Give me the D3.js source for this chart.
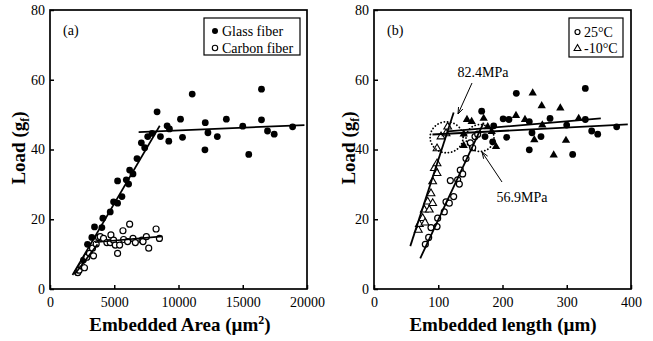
<!DOCTYPE html>
<html><head><meta charset="utf-8">
<script src="https://cdn.jsdelivr.net/npm/d3@7"></script>
<style>body{margin:0;background:#fff}svg{display:block}svg text{font-family:"Liberation Serif","Times New Roman",Times,"DejaVu Serif",serif !important}</style>
</head><body>
<svg id="c" width="653" height="341"></svg>
<script>
// ---------- DATA ----------
const yTicks = [0, 20, 40, 60, 80];
const xTicksA = [0, 5000, 10000, 15000, 20000];
const xTicksB = [0, 100, 200, 300, 400];

// Panel (a): Glass fiber (filled circles)
const glassArea = [2135,2604,2917,3255,3464,4036,4115,4687,4948,5260,5260,5599,5937,6119,6197,6458,6771,7109,7370,7604,7942,8333,8594,9114,9297,9245,10156,10312,11067,12083,12291,12057,13021,13724,15000,15468,16458,16458,16927,17447,18880];
const glassLoad = [4.7,8.3,12.8,14.8,17.8,17.6,20.3,22.1,25.0,24.6,31.0,26.5,31.3,30.1,34.1,33.0,37.4,41.9,40.5,43.7,44.6,50.8,43.7,46.8,45.9,42.4,48.7,43.5,55.9,47.7,44.8,39.9,43.7,48.7,46.7,38.6,57.3,48.5,45.3,44.4,46.5];
// Panel (a): Carbon fiber (open circles)
const carbonArea = [2162,2266,2474,2682,2865,3073,3385,3307,3594,3776,3906,4167,4427,4740,4687,4948,5078,5260,5417,5677,5729,6042,6198,6458,6641,7161,7240,7500,7682,8255,8516];
const carbonLoad = [4.7,5.4,6.6,6.1,9.1,10.2,9.5,11.7,12.9,14.8,15.0,14.5,13.3,15.5,13.3,14.0,12.6,10.2,12.6,16.7,14.2,13.6,18.6,14.5,13.3,14.0,13.6,15.0,11.7,17.2,14.5];
// Panel (a) fit lines [x1, y1, x2, y2]
const aGlassRise = [1750, 4.0, 8540, 46.8];
const aGlassPlateau = [6900, 45.0, 19800, 47.0];
const aCarbonRise = [1950, 4.4, 3700, 12.8];
const aCarbonPlateau = [3500, 13.4, 8750, 15.1];

// Panel (b): 25°C rising (open circles)
const c25Len = [79.9,85.1,88.7,98.1,99.1,109.4,112.1,117.2,118.8,124.0,130.2,132.8,134.3,138.0,143.2,149.9,153.6,157.2,161.4];
const c25Load = [12.8,14.8,17.6,17.9,20.3,22.1,25.0,24.6,31.1,26.5,31.3,30.1,34.1,33.0,37.4,41.9,40.5,43.7,44.4];
// Panel (b): 25°C plateau (filled circles)
const c25PLen = [167.6,172.8,184.7,186.3,201,210,206.5,221.5,241.7,241.7,245.9,259.9,274,299.9,309.2,328.9,328.9,338.8,348.2,377.7];
const c25PLoad = [51.0,43.7,42.2,46.8,48.8,48.6,43.5,56.1,48.0,39.9,44.8,43.7,48.9,47.0,38.6,57.5,48.6,45.3,44.4,46.5];
// Panel (b): -10°C rising (open triangles)
const m10Len = [69.0,70.6,75.7,78.3,79.4,83.5,86.1,88.7,91.3,91.3,93.9,98.1,98.1,98.1,104.3,112.1,114.7];
const m10Load = [16.9,18.6,20.3,22.7,19.0,25.0,22.7,27.4,24.6,30.8,34.6,33.2,36.0,40.3,43.7,44.6,46.5];
// Panel (b): -10°C plateau (filled triangles)
const m10PLen = [139.6,139.6,144.7,152.0,170.7,177,183.2,189.9,221,235,247,249.5,261,262,279.7,290,298.8,318.6];
const m10PLoad = [44.4,41.1,48.6,48.0,48.9,46.5,45.1,40.8,49.7,48.6,56.2,42.8,52.5,47.0,38.4,51.9,42.6,48.9];
// Panel (b) fit lines
const bM10Rise = [56.5, 12.3, 124, 50.6];
const b25Rise = [72, 8.8, 170.7, 47.7];
const b25Plateau = [91, 44.3, 395, 47.2];
const bM10Plateau = [115, 45.2, 353, 48.9];
// Dotted circles [cx, cy] and annotations
const circleCenters = [[113, 43.5], [165, 43.3]];
const annotLabels = ["82.4MPa", "56.9MPa"];

// ---------- DRAW ----------
const svg = d3.select("#c");
const FONT = "Liberation Serif";
const yRange = [289, 10];

function panel(xr, xDomain, xTicks, tickFmt, label, xTitleParts, titleX, yTitleX) {
  const x = d3.scaleLinear().domain(xDomain).range(xr);
  const y = d3.scaleLinear().domain([0, 80]).range(yRange);
  const g = svg.append("g");
  const ax = g.append("g").attr("transform", `translate(0,${yRange[0]})`)
    .call(d3.axisBottom(x).tickValues(xTicks).tickSize(-4).tickPadding(8).tickFormat(tickFmt));
  const ay = g.append("g").attr("transform", `translate(${xr[0]},0)`)
    .call(d3.axisLeft(y).tickValues(yTicks).tickSize(-4).tickPadding(5));
  [ax, ay].forEach(a => {
    a.attr("font-family", null).attr("font-size", null);
    a.select(".domain").remove();
    a.selectAll("line").attr("stroke", "#000").attr("stroke-width", 1.5);
    a.selectAll("text").attr("font-size", 14).attr("fill", "#000");
  });
  g.append("rect").attr("x", xr[0]).attr("y", yRange[1])
    .attr("width", xr[1] - xr[0]).attr("height", yRange[0] - yRange[1])
    .attr("fill", "none").attr("stroke", "#000").attr("stroke-width", 1.7);
  g.append("text").attr("x", xr[0] + 13).attr("y", 35).text(label).attr("font-size", 14);
  // x title
  const xt = g.append("text").attr("x", titleX).attr("y", 331).attr("text-anchor", "middle")
    .attr("font-size", 19).attr("font-weight", "bold");
  xTitleParts.forEach(p => {
    const t = xt.append("tspan").text(p.t);
    if (p.sup) t.attr("font-size", 12).attr("dy", -7);
    if (p.back) t.attr("dy", 7);
  });
  // y title
  const yt = g.append("text").attr("transform", `translate(${yTitleX},148) rotate(-90)`)
    .attr("text-anchor", "middle").attr("font-size", 19).attr("font-weight", "bold");
  yt.append("tspan").text("Load (g");
  yt.append("tspan").text("f").attr("font-size", 12).attr("dy", 4);
  yt.append("tspan").text(")").attr("dy", -4);
  return {x, y, g};
}

function line(p, s, w) {
  p.g.append("line").attr("x1", p.x(s[0])).attr("y1", p.y(s[1]))
    .attr("x2", p.x(s[2])).attr("y2", p.y(s[3]))
    .attr("stroke", "#000").attr("stroke-width", w || 1.7);
}
function circles(p, xs, ys, filled) {
  p.g.selectAll(null).data(xs).enter().append("circle")
    .attr("cx", d => p.x(d)).attr("cy", (d, i) => p.y(ys[i]))
    .attr("r", filled ? 3.4 : 3.0)
    .attr("fill", filled ? "#000" : "#fff").attr("stroke", "#000").attr("stroke-width", filled ? 0 : 1.2);
}
function triangles(p, xs, ys, filled) {
  const sym = d3.symbol().type(d3.symbolTriangle).size(filled ? 30 : 26);
  p.g.selectAll(null).data(xs).enter().append("path")
    .attr("d", sym)
    .attr("transform", (d, i) => `translate(${p.x(d)},${p.y(ys[i])})`)
    .attr("fill", filled ? "#000" : "#fff").attr("stroke", "#000").attr("stroke-width", filled ? 0 : 1.1);
}

// Panel (a)
const A = panel([50, 307], [0, 20000], xTicksA, d3.format("d"), "(a)",
  [{t: "Embedded Area (\u00b5m"}, {t: "2", sup: true}, {t: ")", back: true}], 180, 25);
circles(A, glassArea, glassLoad, true);
circles(A, carbonArea, carbonLoad, false);
line(A, aGlassRise); line(A, aGlassPlateau); line(A, aCarbonRise); line(A, aCarbonPlateau);
// legend (a)
A.g.append("rect").attr("x", 204).attr("y", 18).attr("width", 96).attr("height", 37)
  .attr("fill", "#fff").attr("stroke", "#000").attr("stroke-width", 1.2);
A.g.append("circle").attr("cx", 215).attr("cy", 31).attr("r", 3).attr("fill", "#000");
A.g.append("circle").attr("cx", 215).attr("cy", 48).attr("r", 2.7).attr("fill", "#fff").attr("stroke", "#000").attr("stroke-width", 1.1);
A.g.append("text").attr("x", 222).attr("y", 35.5).text("Glass fiber").attr("font-size", 14);
A.g.append("text").attr("x", 222).attr("y", 52.5).text("Carbon fiber").attr("font-size", 14);

// Panel (b)
const B = panel([374, 631], [0, 400], xTicksB, d3.format("d"), "(b)",
  [{t: "Embedded length (\u00b5m)"}], 503, 355);
circles(B, c25PLen, c25PLoad, true);
triangles(B, m10PLen, m10PLoad, true);
circles(B, c25Len, c25Load, false);
triangles(B, m10Len, m10Load, false);
line(B, bM10Rise, 1.8); line(B, b25Rise, 1.8); line(B, b25Plateau, 1.8); line(B, bM10Plateau, 1.8);
// dotted circles
B.g.selectAll(null).data(circleCenters).enter().append("ellipse")
  .attr("cx", d => B.x(d[0])).attr("cy", d => B.y(d[1]))
  .attr("rx", (d, i) => i === 0 ? 16.5 : 14).attr("ry", (d, i) => i === 0 ? 15.5 : 13.5)
  .attr("fill", "none").attr("stroke", "#000").attr("stroke-width", 1.8)
  .attr("stroke-dasharray", "0.1 3.2").attr("stroke-linecap", "round");
// annotations
function arrow(x1, y1, x2, y2) {
  B.g.append("line").attr("x1", x1).attr("y1", y1).attr("x2", x2).attr("y2", y2)
    .attr("stroke", "#000").attr("stroke-width", 1);
  const ang = Math.atan2(y2 - y1, x2 - x1), L = 7, a = 0.35;
  const p = [[x2 - L * Math.cos(ang - a), y2 - L * Math.sin(ang - a)], [x2, y2], [x2 - L * Math.cos(ang + a), y2 - L * Math.sin(ang + a)]];
  B.g.append("path").attr("d", d3.line()(p)).attr("fill", "none").attr("stroke", "#000").attr("stroke-width", 1);
}
B.g.append("text").attr("x", 483).attr("y", 77).attr("text-anchor", "middle").text(annotLabels[0]).attr("font-size", 14);
arrow(472, 83, 458, 114);
B.g.append("text").attr("x", 522).attr("y", 202).attr("text-anchor", "middle").text(annotLabels[1]).attr("font-size", 14);
arrow(502, 182, 482, 152);
// legend (b)
B.g.append("rect").attr("x", 569).attr("y", 18).attr("width", 54).attr("height", 39)
  .attr("fill", "#fff").attr("stroke", "#000").attr("stroke-width", 1.2);
B.g.append("circle").attr("cx", 577.5).attr("cy", 32).attr("r", 2.5).attr("fill", "#fff").attr("stroke", "#000").attr("stroke-width", 1.2);
B.g.append("path").attr("d", d3.symbol().type(d3.symbolTriangle).size(20)).attr("transform", "translate(577.5,48.5)")
  .attr("fill", "#fff").attr("stroke", "#000").attr("stroke-width", 1.1);
B.g.append("text").attr("x", 584).attr("y", 36.5).text("25\u00b0C").attr("font-size", 14);
B.g.append("text").attr("x", 584).attr("y", 53).text("-10\u00b0C").attr("font-size", 14);
</script>
</body></html>
